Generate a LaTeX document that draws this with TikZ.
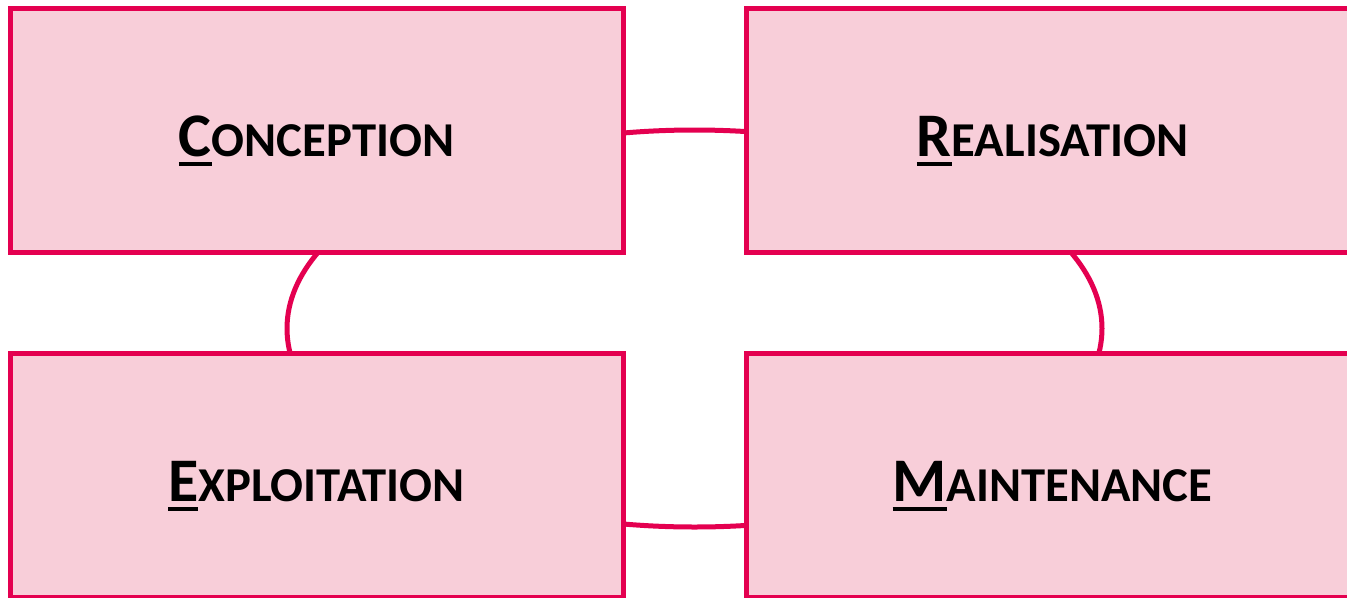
\documentclass[tikz,border=0pt]{standalone}
\usepackage{fontspec}
\setmainfont{Carlito}
\definecolor{cyclered}{RGB}{228,0,80}
\definecolor{cyclepink}{RGB}{248,206,217}
\newcommand{\phasename}[2]{%
  \setbox0\hbox{\fontsize{46.5}{50}\selectfont #1}%
  \rlap{\rule[-7.5pt]{\wd0}{3pt}}\box0{\fontsize{36.5}{40}\selectfont #2}}
\begin{document}
\begin{tikzpicture}[x=0.75pt, y=-0.75pt,
    phase/.style={draw=cyclered, fill=cyclepink, line width=3.75pt,
      minimum width=459.75pt, minimum height=183pt, font=\bfseries,
      text depth=0pt, inner sep=0pt}]
    \useasboundingbox (0,0) rectangle (1347,597);
    % Cycle behind the boxes
    \draw[cyclered, line width=3.75pt] (694.5,328.5) ellipse [x radius=407.5, y radius=198.5];

    % Phases
    \node[phase] (conception) at (316.5,130) {\raisebox{-9pt}{\phasename{C}{ONCEPTION}}};
    \node[phase] (realisation) at (1052.5,130) {\raisebox{-9pt}{\phasename{R}{EALISATION}}};
    \node[phase] (exploitation) at (316.5,475) {\raisebox{-9pt}{\phasename{E}{XPLOITATION}}};
    \node[phase] (maintenance) at (1052.5,475) {\raisebox{-9pt}{\phasename{M}{AINTENANCE}}};
\end{tikzpicture}
\end{document}
